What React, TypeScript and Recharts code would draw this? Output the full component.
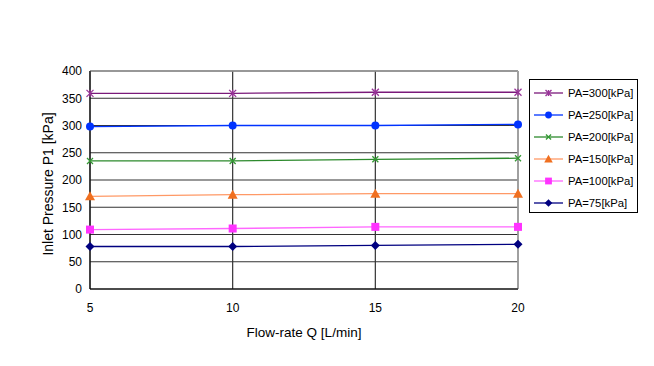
import React from 'react';
import { LineChart, Line, XAxis, YAxis, CartesianGrid, ReferenceLine } from 'recharts';

const flowRates = [5, 10, 15, 20];
const xTicks = [5, 10, 15, 20];
const yTicks = [0, 50, 100, 150, 200, 250, 300, 350, 400];

const pa300 = [359, 359, 361, 361];
const pa250 = [298, 300, 300, 302];
const pa200 = [235, 235, 238, 240];
const pa150 = [170, 173, 175, 175];
const pa100 = [109, 111, 114, 114];
const pa75 = [78, 78, 80, 82];

type Shape = 'star' | 'circle' | 'x' | 'triangle' | 'square' | 'diamond';

const series: { key: string; name: string; values: number[]; line: string; fill: string; shape: Shape }[] = [
    { key: 'pa300', name: 'PA=300[kPa]', values: pa300, line: '#7a1a7a', fill: '#993399', shape: 'star' },
    { key: 'pa250', name: 'PA=250[kPa]', values: pa250, line: '#0033ff', fill: '#0033ff', shape: 'circle' },
    { key: 'pa200', name: 'PA=200[kPa]', values: pa200, line: '#2d8a2d', fill: '#339933', shape: 'x' },
    { key: 'pa150', name: 'PA=150[kPa]', values: pa150, line: '#ff9966', fill: '#f07020', shape: 'triangle' },
    { key: 'pa100', name: 'PA=100[kPa]', values: pa100, line: '#ff66ff', fill: '#ff33ff', shape: 'square' },
    { key: 'pa75', name: 'PA=75[kPa]', values: pa75, line: '#000080', fill: '#000080', shape: 'diamond' },
];

const data = flowRates.map((q, i) => {
    const row: Record<string, number> = { q };
    series.forEach(s => { row[s.key] = s.values[i]; });
    return row;
});

function Marker({ cx, cy, shape, color, k = 1 }: { cx: number; cy: number; shape: Shape; color: string; k?: number }) {
    if (cx == null || cy == null) return null;
    switch (shape) {
        case 'star': {
            const r = 3.5 * k;
            return (
                <g stroke={color} strokeWidth={1.3}>
                    <line x1={cx - r} y1={cy - r} x2={cx + r} y2={cy + r} />
                    <line x1={cx - r} y1={cy + r} x2={cx + r} y2={cy - r} />
                    <line x1={cx} y1={cy - r} x2={cx} y2={cy + r} />
                </g>
            );
        }
        case 'circle':
            return <circle cx={cx} cy={cy} r={4 * k} fill={color} />;
        case 'x': {
            const r = 3 * k;
            return (
                <g stroke={color} strokeWidth={1.3}>
                    <line x1={cx - r} y1={cy - r} x2={cx + r} y2={cy + r} />
                    <line x1={cx - r} y1={cy + r} x2={cx + r} y2={cy - r} />
                </g>
            );
        }
        case 'triangle':
            return <polygon points={`${cx},${cy - 5 * k} ${cx + 5 * k},${cy + 4 * k} ${cx - 5 * k},${cy + 4 * k}`} fill={color} />;
        case 'square':
            return <rect x={cx - 4 * k} y={cy - 4 * k} width={8 * k} height={8 * k} fill={color} />;
        case 'diamond': {
            const r = 4.5 * k;
            return <polygon points={`${cx},${cy - r} ${cx + r},${cy} ${cx},${cy + r} ${cx - r},${cy}`} fill={color} />;
        }
    }
    return null;
}

const font = 'Arial, "Liberation Sans", sans-serif';

function LegendBox() {
    return (
        <div style={{ position: 'absolute', left: 529, top: 79, border: '1px solid #000', width: 107, height: 130, fontFamily: font, fontSize: 11.3, color: '#000', paddingTop: 2 }}>
            {series.map(s => (
                <div key={s.key} style={{ display: 'flex', alignItems: 'center', height: 22 }}>
                    <svg width={38} height={12} style={{ flex: 'none' }}>
                        <line x1={4} y1={6} x2={33} y2={6} stroke={s.line} strokeWidth={1.3} />
                        <Marker cx={18.5} cy={6} shape={s.shape} color={s.fill} k={0.85} />
                    </svg>
                    <span style={{ whiteSpace: 'nowrap' }}>{s.name}</span>
                </div>
            ))}
        </div>
    );
}

function YLabel({ viewBox }: any) {
    const cy = viewBox.y + viewBox.height / 2 + 4;
    return (
        <text x={48} y={cy} transform={`rotate(-90, 48, ${cy})`} textAnchor="middle" dominantBaseline="central" fill="#000" fontSize={14} fontFamily={font}>
            Inlet Pressure P1 [kPa]
        </text>
    );
}

export default function App() {
    return (
        <div style={{ position: 'absolute', left: 0, top: 0, width: 654, height: 366, background: '#fff' }}>
            <LineChart width={654} height={366} data={data} margin={{ top: 71, right: 136, bottom: 27, left: 0 }}>
                <CartesianGrid stroke="#333" strokeWidth={1.2} />
                <XAxis
                    dataKey="q"
                    type="number"
                    domain={[5, 20]}
                    ticks={xTicks}
                    height={50}
                    tickSize={0}
                    tickMargin={14}
                    stroke="#000"
                    tick={{ fill: '#000', fontSize: 12, fontFamily: font }}
                    label={{ value: 'Flow-rate Q [L/min]', position: 'insideBottom', offset: 2, fill: '#000', fontSize: 13.5, fontFamily: font }}
                />
                <YAxis
                    type="number"
                    domain={[0, 400]}
                    ticks={yTicks}
                    width={90}
                    tickSize={0}
                    tickMargin={8}
                    stroke="#000"
                    tick={{ fill: '#000', fontSize: 12, fontFamily: font }}
                    label={(props: any) => <YLabel {...props} />}
                />
                <ReferenceLine y={400} stroke="#999" strokeWidth={1.5} />
                <ReferenceLine x={20} stroke="#aaa" strokeWidth={1.5} />
                {series.map(s => (
                    <Line
                        key={s.key}
                        dataKey={s.key}
                        name={s.name}
                        stroke={s.line}
                        strokeWidth={1.3}
                        isAnimationActive={false}
                        dot={(p: any) => <Marker key={`${s.key}-${p.index}`} cx={p.cx} cy={p.cy} shape={s.shape} color={s.fill} />}
                        activeDot={false}
                    />
                ))}
            </LineChart>
            <LegendBox />
        </div>
    );
}
